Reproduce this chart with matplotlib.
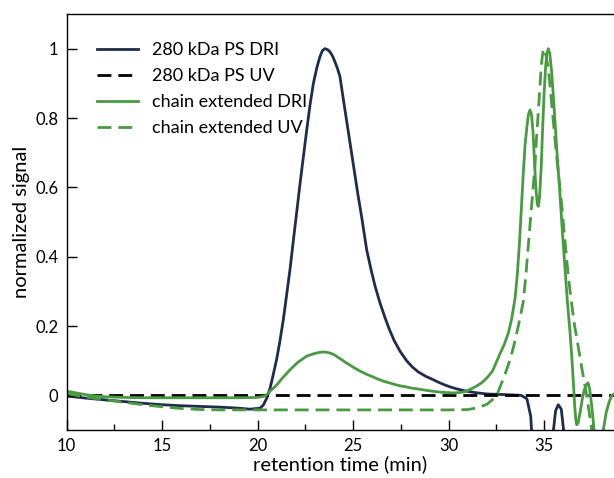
import matplotlib
matplotlib.use("Agg")
import matplotlib.pyplot as plt
from matplotlib.ticker import MultipleLocator

plt.rcParams['font.family'] = ['Lato', 'DejaVu Sans']

navy = "#1f2d4b"
green = "#4a9a43"

# 280 kDa PS, refractive index trace
ps_dri_t = [10, 11, 12, 13, 14, 15, 16, 17, 18, 19, 19.6, 20.13, 20.3, 20.48,
            20.65, 20.82, 21.0, 21.17, 21.35, 21.52, 21.7, 21.87, 22.05, 22.22,
            22.4, 22.57, 22.75, 22.92, 23.1, 23.27, 23.4, 23.53, 23.67, 23.8,
            23.93, 24.05, 24.18, 24.31, 24.5, 24.75, 25.0, 25.25, 25.45, 25.71,
            25.95, 26.15, 26.4, 26.67, 26.9, 27.15, 27.46, 27.8, 28.1, 28.4, 28.8,
            29.2, 29.5, 29.8, 30.1, 30.4, 30.7, 30.95, 31.5, 32.0, 33.0, 33.8,
            34.1, 34.3, 34.45, 34.6, 35.3, 35.45, 35.6, 35.74, 35.9, 36.04, 36.2,
            36.4, 38.7]
ps_dri = [-0.002, -0.008, -0.013, -0.018, -0.023, -0.027, -0.030, -0.032, -0.034,
          -0.037, -0.040, -0.037, -0.028, -0.008, 0.02, 0.06, 0.105, 0.157,
          0.22, 0.29, 0.365, 0.446, 0.53, 0.61, 0.69, 0.765, 0.84, 0.90, 0.945,
          0.978, 0.995, 1.0, 0.997, 0.99, 0.978, 0.962, 0.943, 0.92, 0.85, 0.76,
          0.67, 0.58, 0.514, 0.42, 0.36, 0.315, 0.268, 0.224, 0.19, 0.158, 0.127,
          0.1, 0.082, 0.068, 0.055, 0.045, 0.037, 0.03, 0.024, 0.019, 0.015,
          0.012, 0.007, 0.004, 0.002, 0.0, -0.01, -0.06, -0.2, -0.4, -0.4,
          -0.12, -0.045, -0.027, -0.04, -0.11, -0.3, -0.4, -0.4]

# 280 kDa PS, UV trace
ps_uv_t = [10, 20, 30, 38.7]
ps_uv = [0.0, 0.0, 0.0, 0.0]

# chain extended, refractive index trace
ce_dri_t = [10, 10.5, 11, 11.5, 12, 13, 14, 15, 16, 17, 18, 19, 20, 20.4, 20.65,
            21.0, 21.3, 21.7, 22.1, 22.57, 23.0, 23.25, 23.44, 23.65, 23.9, 24.1,
            24.31, 24.55, 24.84, 25.1, 25.4, 25.7, 26.0, 26.3, 26.58, 26.9, 27.2,
            27.5, 27.8, 28.05, 28.33, 28.65, 29.0, 29.3, 29.6, 29.9, 30.25, 30.55,
            30.8, 31.05, 31.3, 31.5, 31.7, 31.85, 32.0, 32.3, 32.69, 32.9, 33.13,
            33.3, 33.48, 33.6, 33.72, 33.82, 33.91, 34.0, 34.1, 34.18, 34.26,
            34.34, 34.42, 34.5, 34.58, 34.65, 34.7, 34.76, 34.85, 34.93, 35.0,
            35.07, 35.14, 35.22, 35.3, 35.4, 35.5, 35.57, 35.7, 35.83, 35.96,
            36.09, 36.22, 36.36, 36.45, 36.53, 36.6, 36.66, 36.71, 36.78, 36.9,
            37.0, 37.1, 37.2, 37.3, 37.38, 37.45, 37.53, 37.6, 37.75, 37.95, 38.1,
            38.25, 38.4, 38.55, 38.7]
ce_dri = [0.012, 0.007, 0.002, -0.002, -0.004, -0.006, -0.007, -0.007, -0.007,
          -0.007, -0.007, -0.007, -0.006, -0.002, 0.012, 0.03, 0.05, 0.074,
          0.095, 0.113, 0.121, 0.124, 0.125, 0.124, 0.12, 0.114, 0.106, 0.097,
          0.087, 0.078, 0.069, 0.061, 0.054, 0.047, 0.041, 0.036, 0.031, 0.027,
          0.024, 0.021, 0.019, 0.016, 0.013, 0.011, 0.009, 0.008, 0.007, 0.008,
          0.01, 0.015, 0.022, 0.028, 0.035, 0.042, 0.05, 0.07, 0.12, 0.145, 0.18,
          0.22, 0.28, 0.35, 0.45, 0.55, 0.64, 0.72, 0.775, 0.81, 0.823, 0.81,
          0.76, 0.67, 0.59, 0.55, 0.545, 0.57, 0.66, 0.78, 0.87, 0.94, 0.985,
          1.0, 0.985, 0.93, 0.85, 0.79, 0.68, 0.58, 0.47, 0.37, 0.27, 0.18,
          0.11, 0.04, -0.03, -0.07, -0.085, -0.08, -0.045, -0.01, 0.015, 0.03,
          0.036, 0.02, -0.01, -0.05, -0.09, -0.2, -0.2, -0.1, -0.05, -0.02,
          0.0, 0.005]

# chain extended, UV trace
ce_uv_t = [10, 11, 12, 13, 14, 15, 16, 17, 18, 20, 25, 30, 31.0, 31.5, 32.0,
           32.5, 32.95, 33.2, 33.4, 33.65, 33.91, 34.05, 34.2, 34.35, 34.52, 34.6,
           34.7, 34.78, 34.85, 34.9, 34.97, 35.1, 35.2, 35.3, 35.45, 35.6, 35.75,
           35.92, 36.07, 36.22, 36.36, 36.5, 36.6, 36.71, 36.85, 36.97, 37.1,
           37.2, 37.35, 37.5, 37.7, 38.7]
ce_uv = [0.005, -0.005, -0.013, -0.02, -0.027, -0.033, -0.038, -0.041, -0.042,
         -0.042, -0.042, -0.042, -0.041, -0.036, -0.026, -0.003, 0.06, 0.1,
         0.14, 0.2, 0.27, 0.35, 0.45, 0.55, 0.66, 0.74, 0.82, 0.89, 0.95, 0.975,
         1.0, 0.98, 0.95, 0.9, 0.81, 0.72, 0.64, 0.55, 0.46, 0.37, 0.3, 0.24,
         0.2, 0.165, 0.12, 0.08, 0.04, 0.01, -0.045, -0.1, -0.16, -0.16]

fig = plt.figure(figsize=(6.14, 4.78), dpi=100)
ax = fig.add_axes([0.1085, 0.1004, 0.8915, 0.8703])

lw = 2.0
ax.plot(ps_dri_t, ps_dri, color=navy, lw=lw, label="280 kDa PS DRI")
ax.plot(ps_uv_t, ps_uv, color="black", lw=lw, dashes=(5, 2.5), label="280 kDa PS UV")
ax.plot(ce_dri_t, ce_dri, color=green, lw=lw, label="chain extended DRI")
ax.plot(ce_uv_t, ce_uv, color=green, lw=lw, dashes=(5, 2.5), label="chain extended UV")

ax.set_xlim(10, 38.66)
ax.set_ylim(-0.1, 1.1)
ax.xaxis.set_major_locator(MultipleLocator(5))
ax.xaxis.set_minor_locator(MultipleLocator(2.5))
ax.set_yticks([0, 0.2, 0.4, 0.6, 0.8, 1.0])
ax.set_yticklabels(["0", "0.2", "0.4", "0.6", "0.8", "1"])
ax.tick_params(axis='x', which='major', direction='in', length=7.5, width=1,
               labelsize=12, pad=6)
ax.tick_params(axis='x', which='minor', direction='in', length=4.5, width=1)
ax.tick_params(axis='y', direction='in', length=7.5, width=1, labelsize=12, pad=6)
ax.spines['right'].set_visible(False)
for s in ['left', 'bottom', 'top']:
    ax.spines[s].set_linewidth(1.0)

ax.set_xlabel("retention time (min)", fontsize=14.5, labelpad=1)
ax.set_ylabel("normalized signal", fontsize=14.5, labelpad=4)

ax.legend(loc="upper left", bbox_to_anchor=(0.042, 0.949), borderaxespad=0,
          frameon=False, fontsize=13, handlelength=2.3, handletextpad=0.75,
          labelspacing=0.55)

fig.savefig("out.png", dpi=100)
